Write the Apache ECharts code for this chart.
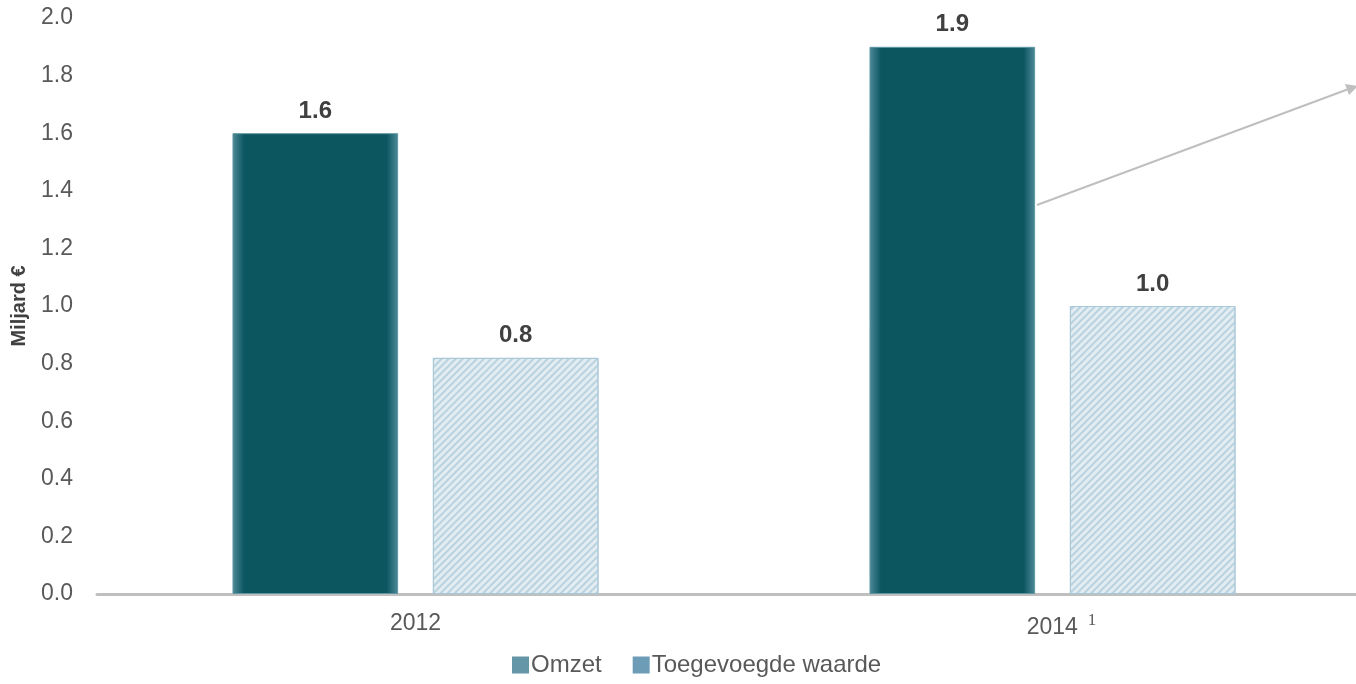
<!DOCTYPE html>
<html><head><meta charset="utf-8">
<script src="https://cdn.jsdelivr.net/npm/echarts@6/dist/echarts.min.js"></script>
<style>html,body{margin:0;padding:0;background:#fff;overflow:hidden;width:1356px;height:684px}#c{width:1371px;height:684px}</style>
</head><body><div id="c"></div>
<script>
const categories = ['2012', '2014'];
const omzet = [1.6, 1.9];
const toegevoegd = [0.82, 1.0];
const yTicks = [0, 0.2, 0.4, 0.6, 0.8, 1.0, 1.2, 1.4, 1.6, 1.8, 2.0];
const seriesNames = ['Omzet', 'Toegevoegde waarde'];

const chart = echarts.init(document.getElementById('c'));
const font = '"Liberation Sans", Arial, sans-serif';
chart.setOption({
  animation: false,
  grid: { left: 97, right: 0, top: 18, bottom: 90 },
  legend: {
    bottom: 2, left: 507, itemWidth: 17, itemHeight: 17, itemGap: 31,
    icon: 'rect',
    textStyle: { fontFamily: font, fontSize: 24, color: '#595959', padding: [0, 0, 0, -3] },
    data: [
      { name: seriesNames[0], itemStyle: { color: '#6596a7', decal: 'none', borderWidth: 0 } },
      { name: seriesNames[1], itemStyle: { color: '#6c9cb6', decal: 'none', borderWidth: 0 } }
    ]
  },
  xAxis: {
    type: 'category', data: categories,
    axisLine: { lineStyle: { color: '#bfbfbf', width: 3 } },
    axisTick: { show: false },
    axisLabel: {
      margin: 18, fontFamily: font, fontSize: 23, color: '#595959',
      formatter: v => v === '2014' ? '{pad|}2014{sup|1}' : v,
      rich: {
        pad: { width: 18 },
        sup: { fontFamily: '"Liberation Serif", serif', fontSize: 17, color: '#595959', verticalAlign: 'top', padding: [0, 0, 14, 10] }
      }
    }
  },
  yAxis: {
    type: 'value', min: 0, max: 2.0, interval: 0.2,
    name: 'Miljard €', nameLocation: 'middle', nameGap: 68,
    nameTextStyle: { fontFamily: font, fontSize: 20, fontWeight: 'bold', color: '#404040' },
    axisLine: { show: false }, axisTick: { show: false }, splitLine: { show: false },
    axisLabel: { margin: 24, fontFamily: font, fontSize: 23, color: '#595959', formatter: v => v.toFixed(1) }
  },
  series: [
    {
      name: seriesNames[0], type: 'bar', data: omzet, barWidth: '26%', barGap: '21%',
      itemStyle: {
        color: { type: 'linear', x: 0, y: 0, x2: 1, y2: 0, colorStops: [
          { offset: 0, color: '#4f8a98' }, { offset: 0.07, color: '#0c5660' },
          { offset: 0.93, color: '#0c5660' }, { offset: 1, color: '#4f8a98' } ] },
        borderColor: '#5e95a3', borderWidth: 1
      },
      label: { show: true, position: 'top', distance: 10, fontFamily: font, fontSize: 24, fontWeight: 'bold', color: '#404040', formatter: p => p.value.toFixed(1) }
    },
    {
      name: seriesNames[1], type: 'bar', data: toegevoegd, barWidth: '26%',
      itemStyle: {
        color: '#e3ecf1', borderColor: '#a9c8d8', borderWidth: 1,
        decal: { symbol: 'rect', color: '#b8d3e0', dashArrayX: [1, 0], dashArrayY: [2, 3], rotation: -Math.PI / 4, symbolSize: 1 }
      },
      label: { show: true, position: 'top', distance: 10, fontFamily: font, fontSize: 24, fontWeight: 'bold', color: '#404040', formatter: p => p.value.toFixed(1) }
    }
  ],
  graphic: [
    { type: 'line', shape: { x1: 1037, y1: 205, x2: 1354, y2: 87 }, style: { stroke: '#bfbfbf', lineWidth: 2 } },
    { type: 'polygon', shape: { points: [[1358, 86], [1345, 84], [1349, 95]] }, style: { fill: '#bfbfbf' } }
  ]
});
</script></body></html>
